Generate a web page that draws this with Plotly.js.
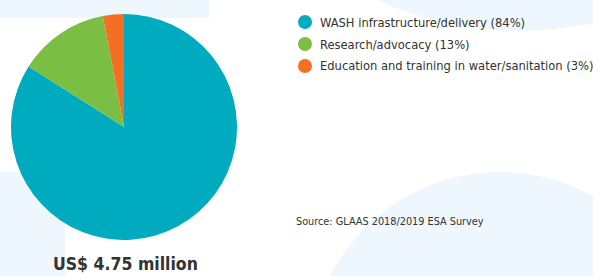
<!DOCTYPE html>
<html>
<head>
<meta charset="utf-8">
<script src="https://cdn.plot.ly/plotly-3.0.1.min.js"></script>
<style>html,body{margin:0;padding:0;background:#fff;}#chart{width:593px;height:276px;}</style>
</head>
<body>
<div id="chart"></div>
<script>
// Data
const categories = ["WASH infrastructure/delivery", "Research/advocacy", "Education and training in water/sanitation"];
const shares = [84, 13, 3];
const colors = ["#00abc0", "#7abf43", "#f36f21"];
const totalLabel = "US$ 4.75 million";
const sourceLabel = "Source: GLAAS 2018/2019 ESA Survey";

const W = 593, H = 276;
const px = x => x / W;
const py = y => 1 - y / H;
const FONT = "'DejaVu Sans Condensed', 'Liberation Sans Narrow', sans-serif";
const BG = "#eef7fd";

const shapes = [
  // background decorations
  {type: "rect", xref: "paper", yref: "paper", x0: px(0), x1: px(209), y0: py(0), y1: py(18), fillcolor: BG, line: {width: 0}, layer: "below"},
  {type: "rect", xref: "paper", yref: "paper", x0: px(0), x1: px(65), y0: py(172), y1: py(276), fillcolor: BG, line: {width: 0}, layer: "below"},
  {type: "circle", xref: "paper", yref: "paper", x0: px(520 - 345), x1: px(520 + 345), y0: py(-314 - 345), y1: py(-314 + 345), fillcolor: BG, line: {width: 0}, layer: "below"},
  {type: "circle", xref: "paper", yref: "paper", x0: px(500 - 191), x1: px(500 + 191), y0: py(363 - 191), y1: py(363 + 191), fillcolor: BG, line: {width: 0}, layer: "below"}
];
const annotations = [];
categories.forEach((c, i) => {
  const cy = 22 + i * 22;
  shapes.push({type: "circle", xref: "paper", yref: "paper", x0: px(298), x1: px(312), y0: py(cy - 7), y1: py(cy + 7), fillcolor: colors[i], line: {width: 0}});
  annotations.push({xref: "paper", yref: "paper", x: px(318), y: py(cy), xanchor: "left", yanchor: "middle", showarrow: false,
    text: c + " (" + shares[i] + "%)", font: {family: FONT, size: 12.8, color: "#333333"}});
});
annotations.push({xref: "paper", yref: "paper", x: px(125), y: py(264), xanchor: "center", yanchor: "middle", showarrow: false,
  text: "<b>" + totalLabel + "</b>", font: {family: FONT, size: 17.5, color: "#333333"}});
annotations.push({xref: "paper", yref: "paper", x: px(294), y: py(221), xanchor: "left", yanchor: "middle", showarrow: false,
  text: sourceLabel, font: {family: FONT, size: 10.8, color: "#333333"}});

const trace = {
  type: "pie",
  labels: categories,
  values: shares,
  marker: {colors: colors, line: {width: 0}},
  sort: false,
  direction: "clockwise",
  rotation: 0,
  textinfo: "none",
  hoverinfo: "none",
  showlegend: false,
  domain: {x: [px(11), px(237)], y: [py(240), py(14)]}
};

Plotly.newPlot("chart", [trace], {
  width: W, height: H,
  margin: {l: 0, r: 0, t: 0, b: 0},
  paper_bgcolor: "#ffffff",
  plot_bgcolor: "rgba(0,0,0,0)",
  showlegend: false,
  shapes: shapes,
  annotations: annotations
}, {displayModeBar: false, staticPlot: true});
</script>
</body>
</html>
